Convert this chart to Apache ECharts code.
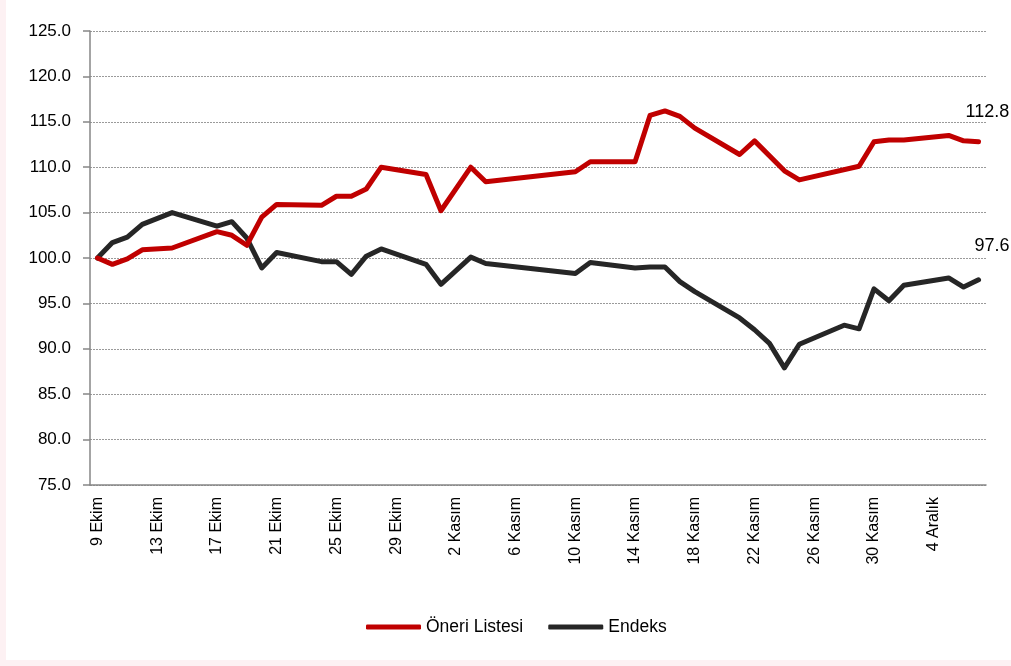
<!DOCTYPE html>
<html>
<head>
<meta charset="utf-8">
<script src="https://cdn.jsdelivr.net/npm/echarts@6/dist/echarts.min.js"></script>
<style>
html,body{margin:0;padding:0;background:#fdf1f3;}
#wrap{position:absolute;left:6px;top:0;width:1005px;height:660px;background:#fff;}
#chart{position:absolute;left:0;top:0;width:1011px;height:666px;}
</style>
</head>
<body>
<div id="wrap"></div>
<div id="chart"></div>
<script>
const categories = [
 "9 Ekim","10 Ekim","11 Ekim","12 Ekim","13 Ekim","14 Ekim","15 Ekim","16 Ekim","17 Ekim","18 Ekim",
 "19 Ekim","20 Ekim","21 Ekim","22 Ekim","23 Ekim","24 Ekim","25 Ekim","26 Ekim","27 Ekim","28 Ekim",
 "29 Ekim","30 Ekim","31 Ekim","1 Kasım","2 Kasım","3 Kasım","4 Kasım","5 Kasım","6 Kasım","7 Kasım",
 "8 Kasım","9 Kasım","10 Kasım","11 Kasım","12 Kasım","13 Kasım","14 Kasım","15 Kasım","16 Kasım","17 Kasım",
 "18 Kasım","19 Kasım","20 Kasım","21 Kasım","22 Kasım","23 Kasım","24 Kasım","25 Kasım","26 Kasım","27 Kasım",
 "28 Kasım","29 Kasım","30 Kasım","1 Aralık","2 Aralık","3 Aralık","4 Aralık","5 Aralık","6 Aralık","7 Aralık"
];
const oneriListesi = [
 100.0, 99.3, 99.9, 100.9, null, 101.1, null, null, 102.9, 102.5,
 101.4, 104.5, 105.9, null, null, 105.8, 106.8, 106.8, 107.6, 110.0,
 null, null, 109.2, 105.2, null, 110.0, 108.4, null, null, null,
 null, null, 109.5, 110.6, null, null, 110.6, 115.7, 116.2, 115.6,
 114.3, null, null, 111.4, 112.9, null, 109.6, 108.6, null, null,
 null, 110.1, 112.8, 113.0, 113.0, null, null, 113.5, 112.9, 112.8
];
const endeks = [
 100.0, 101.7, 102.3, 103.7, null, 105.0, null, null, 103.5, 104.0,
 102.2, 98.9, 100.6, null, null, 99.6, 99.6, 98.2, 100.2, 101.0,
 null, null, 99.3, 97.1, null, 100.1, 99.4, null, null, null,
 null, null, 98.3, 99.5, null, null, 98.9, 99.0, 99.0, 97.4,
 96.3, null, null, 93.4, 92.1, 90.6, 87.9, 90.5, null, null,
 92.6, 92.2, 96.6, 95.3, 97.0, null, null, 97.8, 96.8, 97.6
];
const seriesNames = ["Öneri Listesi", "Endeks"];
const yTicks = {min: 75, max: 125, interval: 5};

const FONT = "'Liberation Sans',Arial,sans-serif";
const chart = echarts.init(document.getElementById('chart'));
chart.setOption({
  backgroundColor: 'transparent',
  animation: false,
  grid: {left: 90, right: 25, top: 31, bottom: 181},
  legend: {
    left: 361, top: 613,
    itemWidth: 55, itemHeight: 5, itemGap: 25,
    icon: 'roundRect',
    textStyle: {fontFamily: FONT, fontSize: 17.5, color: '#000'},
    data: seriesNames
  },
  xAxis: {
    type: 'category',
    data: categories,
    boundaryGap: true,
    axisLine: {lineStyle: {color: '#868686', width: 1.5}},
    axisTick: {interval: 3, length: 5, lineStyle: {color: '#868686', width: 1.5}},
    axisLabel: {interval: 3, rotate: 90, margin: 12, fontFamily: FONT, fontSize: 16, color: '#000'},
    splitLine: {show: false}
  },
  yAxis: {
    type: 'value',
    min: yTicks.min, max: yTicks.max, interval: yTicks.interval,
    axisLine: {show: true, lineStyle: {color: '#868686', width: 1.5}},
    axisTick: {show: true, length: 7, lineStyle: {color: '#868686', width: 1.5}},
    axisLabel: {margin: 19, fontFamily: FONT, fontSize: 17, color: '#000', formatter: v => v.toFixed(1)},
    splitLine: {show: true, lineStyle: {color: '#9a9a9a', width: 1, type: [2, 1]}}
  },
  series: [
    {
      name: seriesNames[0], type: 'line', data: oneriListesi, connectNulls: true,
      showSymbol: false, symbol: 'none', color: '#C00000',
      lineStyle: {width: 5, color: '#C00000', cap: 'round', join: 'round'},
      endLabel: {show: true, formatter: p => Number(p.value).toFixed(1), offset: [-21, -30],
        fontFamily: FONT, fontSize: 18, color: '#000'},
      z: 3
    },
    {
      name: seriesNames[1], type: 'line', data: endeks, connectNulls: true,
      showSymbol: false, symbol: 'none', color: '#262626',
      lineStyle: {width: 5, color: '#262626', cap: 'round', join: 'round'},
      endLabel: {show: true, formatter: p => Number(p.value).toFixed(1), offset: [-12, -34],
        fontFamily: FONT, fontSize: 18, color: '#000'},
      z: 2
    }
  ]
});
</script>
</body>
</html>
